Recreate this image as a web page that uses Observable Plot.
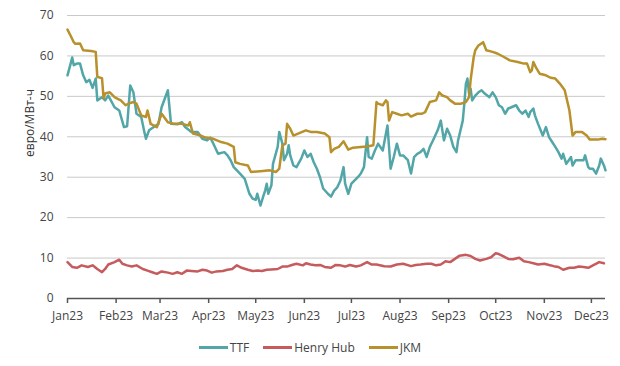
<!DOCTYPE html>
<html><head><meta charset="utf-8">
<script src="https://cdn.jsdelivr.net/npm/d3@7"></script>
<script src="https://cdn.jsdelivr.net/npm/@observablehq/plot@0.6"></script>
<style>
body{margin:0;background:#fff;font-family:"Open Sans",sans-serif;}
#legend{display:flex;justify-content:center;align-items:center;margin-top:9px;height:20px;font-size:12px;color:#444;font-family:"Open Sans",sans-serif;}
.item{display:flex;align-items:center;margin:0 7px;}
.sw{width:29px;height:3px;margin-right:2px;}
</style></head><body>
<div id="chart"></div><div id="legend"></div>
<script>
// days since 2023-01-01
const baseDate = "2023-01-01";
const seriesNames = ["TTF", "Henry Hub", "JKM"];
const seriesColors = ["#52a6a8", "#c65b5e", "#b8902c"];
const tickLabels = ["Jan23","Feb23","Mar23","Apr23","May23","Jun23","Jul23","Aug23","Sep23","Oct23","Nov23","Dec23"];
const yTicks = [0,10,20,30,40,50,60,70];

const ttfDays = [0,2,3,4,6,8,10,12,14,16,18,19,22,24,26,30,33,36,38,40,42,44,47,49,50,52,55,58,60,64,65,66,70,73,75,79,83,86,89,91,93,96,100,102,104,106,108,110,113,116,118,120,121,123,125,126,127,128,130,131,134,135,137,138,140,141,142,144,146,149,151,153,155,157,159,161,163,166,168,170,172,174,176,177,179,181,184,186,187,189,191,192,194,196,198,201,204,206,208,210,212,214,217,219,221,223,225,227,229,231,233,236,238,240,242,244,246,248,249,252,253,254,255,256,257,258,260,262,264,266,269,271,273,275,277,279,281,283,286,288,290,292,294,295,297,298,300,303,305,307,309,311,313,315,316,318,321,322,324,329,330,332,333,335,337,339,340,342,343];
const ttfValues = [55.2,58.1,59.6,57.7,58.1,58.1,55.2,53.5,54.1,52.1,54.4,49,49.8,49,50.2,47.3,46.5,42.4,42.6,52.7,51,45.7,44.9,41.2,39.5,41.6,42.4,43.2,47.3,51.5,47.3,43.2,43.1,43.6,42.4,41.2,41.2,39.5,39.1,39.8,38.3,35.8,36.2,35.4,34.2,32.5,31.7,30.9,29.6,25.9,24.7,24.4,25.9,23,25.5,26.7,28.4,25.9,28,33.3,37.5,41.2,38.3,34.2,35.8,37.9,35.4,32.9,32.5,34.6,36.6,35,35.8,33.7,32.1,30,27.2,25.9,25.2,26.7,27.5,29.2,32.5,28.4,25.9,28.4,29.6,30.4,30.9,32.5,39.9,35,34.6,36.6,38.3,36.6,42.8,32.1,35,38.3,35.4,35.4,34.2,30.9,35,35.8,36.2,37,35,37.5,39.1,41.6,44,39.1,42,40.3,37.5,36.2,39.1,44,48.2,53.1,54.4,50.7,51.9,49,50.2,51,51.5,50.7,49.8,51,49.8,47.8,47.3,45.7,47,47.3,47.8,46.5,45.7,46.5,44.9,46.1,47,45.3,43.2,40.3,42.4,39.9,38.7,37.5,36.2,34.6,35.8,33.3,35,32.9,34.2,34.2,35.4,32.5,32.1,32.1,30.9,32.9,34.6,32.9,31.7];

const hhDays = [0,3,6,9,13,16,19,22,24,26,30,33,35,38,41,44,48,51,54,57,60,64,67,70,73,76,79,83,86,89,92,95,99,102,105,108,111,115,118,121,124,127,130,134,137,140,143,146,150,152,155,158,161,164,168,171,174,177,180,184,187,191,194,197,202,206,210,214,219,222,225,229,232,235,238,241,244,247,250,254,257,260,263,267,270,273,275,278,281,284,288,291,294,297,300,304,307,310,313,316,320,323,326,329,332,335,339,342];
const hhValues = [9,7.8,7.6,8.2,7.8,8.2,7.3,6.5,7.3,8.4,9,9.6,8.6,8.2,7.9,8.2,7.3,6.9,6.5,6.1,6.7,6.4,6.1,6.5,6.1,6.9,6.8,6.7,7.1,6.9,6.4,6.7,6.8,7.1,7.3,8.2,7.6,7.1,6.8,6.9,6.8,7.1,7.2,7.3,7.9,7.9,8.3,8.6,8.2,8.7,8.4,8.2,8.3,7.8,7.6,8.3,8.2,7.9,8.3,7.9,8.2,9,8.4,8.4,8,7.9,8.4,8.6,8,8.3,8.4,8.6,8.6,8.2,8.4,9.2,9,9.8,10.6,10.8,10.5,9.8,9.4,9.8,10.2,11.2,11,10.4,9.8,9.7,10.1,9.2,9,8.7,8.4,8.6,8.3,8,7.8,7.1,7.6,7.6,7.9,7.8,7.6,8.2,9,8.7];

const jkmDays = [0,2,4,5,8,10,15,18,19,22,23,24,27,30,32,34,37,39,42,44,47,50,51,52,53,57,60,64,68,73,77,78,80,85,88,93,98,102,106,107,110,115,117,123,129,133,135,137,139,140,142,144,147,152,155,159,164,167,168,170,173,176,179,182,187,191,195,197,198,201,203,204,205,207,210,213,217,219,223,226,228,231,235,237,239,242,244,247,251,254,256,257,259,260,262,265,267,271,274,278,282,287,291,293,295,296,297,299,301,305,308,311,314,317,320,322,324,328,331,333,338,341,343];
const jkmValues = [66.5,65,63.4,63,63.1,61.4,61.2,61,54.8,54.5,49.5,50.7,51,49.8,49.4,49,47.8,48.2,48.6,48.2,45.3,44.9,46.5,44.9,43.2,42.4,45.7,43.6,43.2,43.2,42.8,43.6,40.8,40.3,39.8,39.5,38.7,38.3,37.5,33.7,33.3,32.9,31.3,31.5,31.7,31.3,32.1,37.9,38.3,43.2,42,40.3,40.8,41.6,41.2,41.2,40.8,39.9,36.2,37,37.5,38.9,36.8,37.3,37.5,37.6,37.9,48.6,48.2,47.8,49,48.6,44,46.1,45.7,45.3,45.7,45,45.7,45.7,46.1,48.6,49,51,50.2,49.8,49,48.2,48.2,48.6,49.8,54,59.8,61.4,62.6,63.4,61.4,61,60.6,59.8,58.9,58.5,58.1,58.1,56,56.4,58.5,56.9,55.6,55.2,54.6,54.4,53.1,51.5,46.5,40.3,41.2,41.2,40.3,39.3,39.3,39.5,39.4];

const base = new Date(baseDate);
const toRows = (name, days, vals) => days.map((d, i) => ({series: name, date: d3.utcDay.offset(base, d), value: vals[i]}));
const rows = [
  ...toRows("TTF", ttfDays, ttfValues),
  ...toRows("Henry Hub", hhDays, hhValues),
  ...toRows("JKM", jkmDays, jkmValues)
];
const monthTicks = tickLabels.map((_, i) => new Date(Date.UTC(2023, i, 1)));

const chart = Plot.plot({
  width: 620,
  height: 328,
  marginTop: 15,
  marginBottom: 30,
  marginLeft: 67,
  marginRight: 15,
  style: {fontFamily: "'Open Sans', sans-serif", fontSize: "12px", color: "#444", background: "#fff"},
  x: {type: "utc", domain: [new Date("2023-01-01"), new Date("2023-12-10")]},
  y: {domain: [0, 70]},
  color: {domain: seriesNames, range: seriesColors},
  marks: [
    Plot.gridY(yTicks.slice(1), {stroke: "#c9c9c9", strokeOpacity: 1, strokeWidth: 1}),
    Plot.axisY(yTicks, {tickSize: 0, tickPadding: 14, label: null, fontSize: 12}),
    Plot.axisX(monthTicks, {tickSize: 5, tickPadding: 8, tickFormat: (d) => tickLabels[d.getUTCMonth()], label: null, fontSize: 12, stroke: "#555", strokeWidth: 1.5}),
    Plot.text(["евро/МВт-ч"], {frameAnchor: "left", dx: -37, rotate: -90, text: d => d, fontSize: 12, fill: "#333"}),
    Plot.line(rows, {x: "date", y: "value", z: "series", stroke: "series", strokeWidth: 2.5, strokeLinejoin: "round"}),
    Plot.ruleY([0], {stroke: "#555", strokeWidth: 1.5})
  ]
});
document.getElementById("chart").appendChild(chart);

const legend = document.getElementById("legend");
seriesNames.forEach((name, i) => {
  const item = document.createElement("div");
  item.className = "item";
  const sw = document.createElement("div");
  sw.className = "sw";
  sw.style.background = seriesColors[i];
  const label = document.createElement("span");
  label.textContent = name;
  item.appendChild(sw);
  item.appendChild(label);
  legend.appendChild(item);
});
</script>
</body></html>
